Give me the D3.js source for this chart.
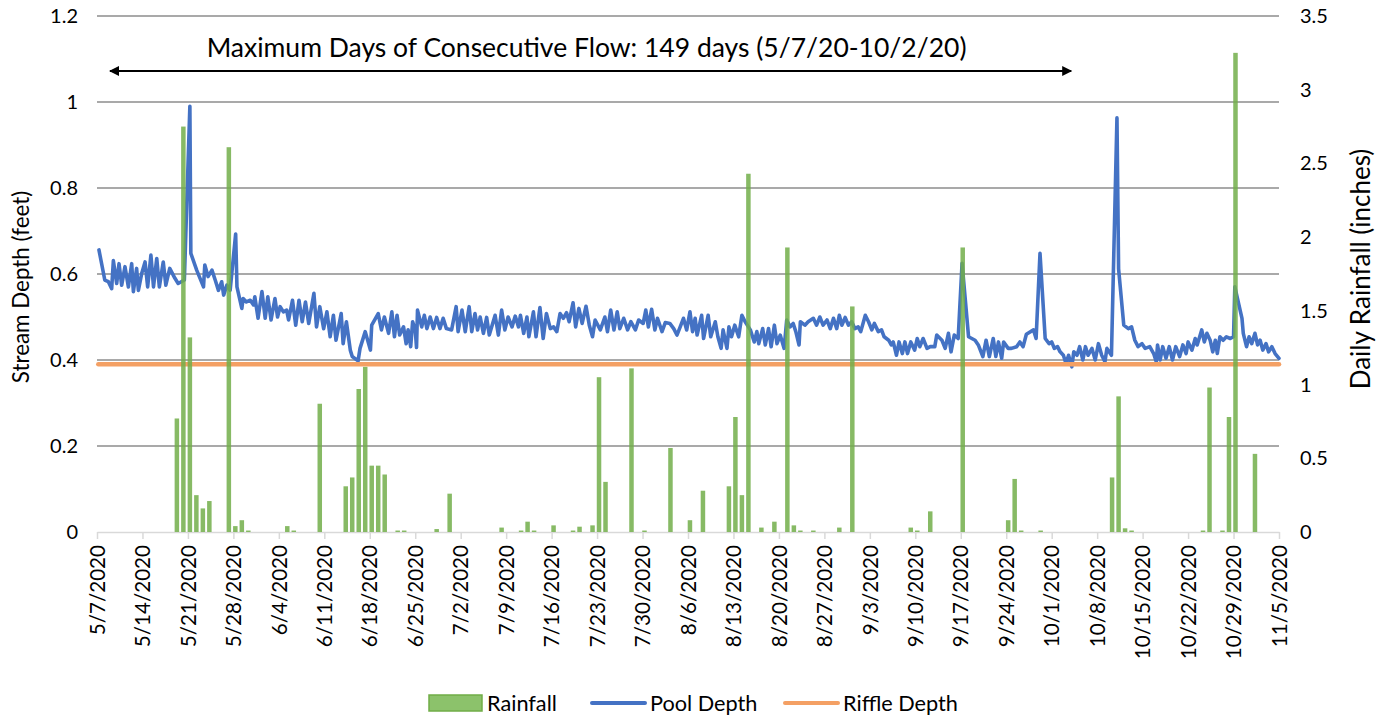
<!DOCTYPE html>
<html>
<head>
<meta charset="utf-8">
<script src="https://cdn.jsdelivr.net/npm/d3@7"></script>
<style>
  body { margin: 0; background: #fff; }
  svg { display: block; font-family: Lato, 'Open Sans', sans-serif; }
</style>
</head>
<body>
<svg width="1389" height="719"></svg>
<script>
// daily rainfall (inches)
var rainDates = ['5/19/2020', '5/20/2020', '5/21/2020', '5/22/2020', '5/23/2020', '5/24/2020',
  '5/27/2020', '5/28/2020', '5/29/2020', '5/30/2020', '6/5/2020', '6/6/2020', '6/10/2020',
  '6/14/2020', '6/15/2020', '6/16/2020', '6/17/2020', '6/18/2020', '6/19/2020', '6/20/2020',
  '6/22/2020', '6/23/2020', '6/28/2020', '6/30/2020', '7/8/2020', '7/11/2020', '7/12/2020',
  '7/13/2020', '7/16/2020', '7/19/2020', '7/20/2020', '7/22/2020', '7/23/2020', '7/24/2020',
  '7/28/2020', '7/30/2020', '8/3/2020', '8/6/2020', '8/8/2020', '8/12/2020', '8/13/2020',
  '8/14/2020', '8/15/2020', '8/17/2020', '8/19/2020', '8/21/2020', '8/22/2020', '8/23/2020',
  '8/25/2020', '8/29/2020', '8/31/2020', '9/9/2020', '9/10/2020', '9/12/2020', '9/17/2020',
  '9/24/2020', '9/25/2020', '9/26/2020', '9/29/2020', '10/10/2020', '10/11/2020', '10/12/2020',
  '10/13/2020', '10/24/2020', '10/25/2020', '10/27/2020', '10/28/2020', '10/29/2020', '11/1/2020']
var rainInches = [0.77, 2.75, 1.32, 0.25, 0.16, 0.21,
  2.61, 0.04, 0.08, 0.01, 0.04, 0.01, 0.87,
  0.31, 0.37, 0.97, 1.12, 0.45, 0.45, 0.39,
  0.01, 0.01, 0.02, 0.26, 0.03, 0.01, 0.07,
  0.01, 0.045, 0.01, 0.036, 0.045, 1.05, 0.34,
  1.11, 0.01, 0.57, 0.08, 0.28, 0.31, 0.78,
  0.25, 2.43, 0.03, 0.07, 1.93, 0.045, 0.01,
  0.01, 0.03, 1.53, 0.03, 0.01, 0.14, 1.93,
  0.08, 0.36, 0.01, 0.01, 0.37, 0.92, 0.025,
  0.01, 0.01, 0.98, 0.01, 0.78, 3.25, 0.53]

// pool depth readings: [days since 5/7/2020, depth in feet]
var poolReadings = [
  [0.3, 0.656], [1.2, 0.586], [1.75, 0.582], [2.26, 0.566], [2.52, 0.631], [3.03, 0.578], [3.39, 0.624],
  [3.8, 0.574], [4.31, 0.617], [4.83, 0.570], [5.34, 0.624], [5.6, 0.559], [6.1, 0.613], [6.37, 0.562],
  [6.88, 0.601], [7.4, 0.628], [7.8, 0.570], [8.3, 0.644], [8.7, 0.570], [9.2, 0.636], [9.6, 0.570],
  [10.2, 0.628], [10.6, 0.574], [11.2, 0.613], [12.0, 0.590], [12.5, 0.578], [13.45, 0.586], [14.3, 0.99],
  [14.45, 0.648], [15.35, 0.609], [16.4, 0.570], [16.6, 0.621], [17.1, 0.594], [17.7, 0.609], [18.2, 0.586],
  [18.7, 0.562], [19.2, 0.582], [19.5, 0.551], [20.0, 0.574], [20.5, 0.562], [21.35, 0.693], [21.55, 0.57],
  [22.3, 0.52], [22.5, 0.543], [23.0, 0.535], [23.6, 0.539], [24.1, 0.528], [24.3, 0.547], [24.8, 0.497],
  [25.4, 0.559], [25.9, 0.497], [26.3, 0.547], [26.8, 0.493], [27.4, 0.543], [27.8, 0.500], [28.2, 0.524],
  [28.7, 0.512], [29.2, 0.516], [29.5, 0.493], [30.1, 0.539], [30.6, 0.481], [31.1, 0.539], [31.6, 0.489],
  [32.1, 0.535], [32.6, 0.485], [33.4, 0.555], [33.8, 0.477], [34.3, 0.524], [34.9, 0.473], [35.4, 0.512],
  [35.9, 0.454], [36.4, 0.504], [36.8, 0.446], [37.6, 0.508], [37.9, 0.438], [38.4, 0.489], [39.0, 0.423],
  [39.3, 0.408], [40.2, 0.398], [40.5, 0.427], [41.3, 0.466], [42.1, 0.423], [42.3, 0.481], [43.3, 0.508],
  [43.8, 0.47], [44.25, 0.50], [44.9, 0.462], [45.4, 0.512], [45.8, 0.454], [46.2, 0.504], [46.6, 0.458],
  [47.2, 0.477], [47.6, 0.438], [47.9, 0.47], [48.3, 0.431], [48.6, 0.489], [49.0, 0.47], [49.2, 0.429],
  [49.35, 0.516], [50.0, 0.477], [50.4, 0.504], [50.8, 0.473], [51.3, 0.50], [51.8, 0.473], [52.3, 0.499],
  [52.8, 0.473], [53.3, 0.497], [53.8, 0.473], [54.6, 0.47], [55.3, 0.524], [55.6, 0.466], [56.2, 0.516],
  [56.7, 0.466], [57.3, 0.524], [57.7, 0.466], [58.2, 0.508], [58.6, 0.47], [59.0, 0.50], [59.5, 0.462],
  [60.0, 0.499], [60.4, 0.458], [61.3, 0.504], [61.8, 0.458], [62.3, 0.516], [62.8, 0.47], [63.3, 0.50],
  [63.9, 0.477], [64.4, 0.502], [64.9, 0.477], [65.2, 0.504], [65.7, 0.462], [66.2, 0.50], [66.5, 0.454],
  [67.2, 0.512], [67.6, 0.454], [68.2, 0.522], [68.7, 0.45], [69.2, 0.508], [69.8, 0.473], [70.3, 0.477],
  [70.8, 0.466], [71.3, 0.508], [71.8, 0.497], [72.3, 0.51], [72.7, 0.489], [73.3, 0.533], [73.7, 0.477],
  [74.2, 0.52], [74.7, 0.485], [75.3, 0.525], [75.8, 0.481], [76.3, 0.454], [76.7, 0.493], [77.5, 0.47],
  [78.2, 0.50], [78.6, 0.466], [79.1, 0.516], [79.6, 0.47], [80.1, 0.512], [80.5, 0.473], [81.1, 0.497],
  [81.7, 0.47], [82.2, 0.489], [82.9, 0.47], [83.4, 0.493], [84.1, 0.485], [84.5, 0.516], [84.9, 0.477],
  [85.4, 0.518], [85.9, 0.47], [86.3, 0.497], [87.0, 0.466], [87.5, 0.487], [88.2, 0.485], [88.8, 0.473],
  [89.3, 0.458], [89.8, 0.477], [90.3, 0.497], [90.8, 0.47], [91.3, 0.512], [91.7, 0.466], [92.1, 0.497],
  [92.4, 0.458], [93.1, 0.504], [93.4, 0.45], [94.1, 0.504], [94.5, 0.454], [95.2, 0.489], [95.6, 0.454],
  [96.1, 0.427], [96.4, 0.47], [97.0, 0.427], [97.3, 0.477], [97.7, 0.454], [98.2, 0.481], [98.8, 0.454],
  [99.3, 0.504], [99.8, 0.489], [100.6, 0.47], [101.2, 0.442], [101.6, 0.466], [101.9, 0.438], [102.5, 0.473],
  [102.9, 0.435], [103.4, 0.473], [103.8, 0.431], [104.3, 0.481], [104.7, 0.438], [105.2, 0.458], [105.8, 0.427],
  [106.2, 0.493], [106.7, 0.477], [107.2, 0.485], [107.6, 0.466], [108.1, 0.435], [108.3, 0.489], [109.0, 0.481],
  [109.5, 0.489], [110.3, 0.497], [110.8, 0.481], [111.3, 0.50], [111.8, 0.481], [112.4, 0.493], [112.9, 0.473],
  [113.4, 0.497], [113.9, 0.473], [114.3, 0.504], [114.7, 0.481], [115.2, 0.499], [115.7, 0.481], [116.2, 0.489],
  [116.7, 0.473], [117.2, 0.477], [117.6, 0.466], [118.3, 0.504], [118.8, 0.489], [119.3, 0.47], [119.7, 0.485],
  [120.3, 0.466], [120.8, 0.47], [121.2, 0.454], [121.9, 0.446], [122.3, 0.435], [122.6, 0.442], [123.1, 0.411],
  [123.5, 0.442], [124.0, 0.415], [124.4, 0.442], [124.8, 0.415], [125.3, 0.442], [125.9, 0.423], [126.3, 0.45],
  [126.7, 0.431], [127.2, 0.45], [127.8, 0.427], [128.3, 0.431], [129.0, 0.431], [129.3, 0.458], [130.1, 0.446],
  [130.6, 0.427], [131.1, 0.462], [131.5, 0.419], [132.0, 0.458], [132.6, 0.45], [133.2, 0.625], [134.2, 0.454],
  [135.2, 0.446], [135.7, 0.435], [136.4, 0.408], [136.9, 0.446], [137.4, 0.408], [138.0, 0.45], [138.4, 0.408],
  [138.8, 0.442], [139.3, 0.404], [139.6, 0.442], [140.3, 0.427], [140.8, 0.427], [141.6, 0.431], [142.1, 0.442],
  [142.6, 0.431], [143.1, 0.46], [144.2, 0.47], [144.6, 0.45], [145.2, 0.648], [146.0, 0.45], [146.6, 0.438],
  [147.0, 0.442], [147.4, 0.427], [147.9, 0.431], [148.3, 0.419], [148.8, 0.411], [149.2, 0.392], [149.6, 0.411],
  [150.1, 0.384], [150.4, 0.419], [150.9, 0.411], [151.3, 0.431], [151.8, 0.40], [152.2, 0.431], [152.6, 0.411],
  [153.2, 0.427], [153.7, 0.40], [154.2, 0.438], [154.7, 0.411], [155.2, 0.396], [155.5, 0.427], [156.2, 0.411],
  [157.05, 0.963], [157.3, 0.612], [158.1, 0.481], [158.8, 0.473], [159.3, 0.477], [159.8, 0.446], [160.3, 0.431],
  [160.9, 0.438], [161.4, 0.427], [162.1, 0.431], [162.7, 0.415], [163.1, 0.396], [163.3, 0.435], [163.7, 0.40],
  [164.1, 0.431], [164.6, 0.404], [165.1, 0.431], [165.6, 0.40], [166.1, 0.431], [166.7, 0.408], [167.2, 0.435],
  [167.7, 0.415], [168.0, 0.442], [168.6, 0.423], [169.1, 0.45], [169.4, 0.435], [170.1, 0.47], [170.5, 0.442],
  [170.9, 0.462], [171.4, 0.446], [171.8, 0.419], [172.2, 0.446], [172.5, 0.415], [172.9, 0.454], [173.4, 0.446],
  [173.9, 0.454], [174.5, 0.45], [175.0, 0.454], [175.2, 0.57], [176.3, 0.497], [176.5, 0.462], [177.0, 0.431],
  [177.4, 0.454], [177.8, 0.438], [178.3, 0.462], [178.7, 0.435], [179.1, 0.446], [179.5, 0.423], [180.0, 0.438],
  [180.4, 0.419], [180.9, 0.431], [181.4, 0.415], [182.0, 0.404]
]

var riffleDepth = 0.39
var startDate = '5/7/2020'
var endDate = '11/5/2020'
var flowStart = '5/9/2020'
var flowEnd = '10/4/2020'
var annotation = 'Maximum Days of Consecutive Flow: 149 days (5/7/20-10/2/20)'
var depthTicks = [0, 0.2, 0.4, 0.6, 0.8, 1, 1.2]
var rainTicks = [0, 0.5, 1, 1.5, 2, 2.5, 3, 3.5]

var parse = d3.utcParse('%m/%d/%Y')
var fmtDate = d3.utcFormat('%-m/%-d/%Y')
var fmtNum = d3.format('.1~f')
var t0 = parse(startDate)
var t1 = parse(endDate)
function dayToDate (d) { return new Date(t0.getTime() + d * 864e5) }

var plotLeft = 97
var plotRight = 1279
var plotTop = 16
var plotBottom = 532

var x = d3.scaleUtc().domain([t0, t1]).range([plotLeft, plotRight])
var yDepth = d3.scaleLinear().domain([0, 1.2]).range([plotBottom, plotTop])
var yRain = d3.scaleLinear().domain([0, 3.5]).range([plotBottom, plotTop])

var svg = d3.select('svg')

// gridlines
svg.append('g').selectAll('line')
  .data(depthTicks.filter(function (d) { return d > 0 }))
  .join('line')
  .attr('x1', plotLeft).attr('x2', plotRight)
  .attr('y1', yDepth).attr('y2', yDepth)
  .attr('stroke', '#8c8c8c').attr('stroke-width', 1.5)

// left axis labels
svg.append('g').selectAll('text')
  .data(depthTicks)
  .join('text')
  .attr('x', 78).attr('y', yDepth).attr('dy', '0.35em')
  .attr('text-anchor', 'end')
  .attr('font-size', 20).attr('fill', '#000')
  .text(fmtNum)

// right axis labels
svg.append('g').selectAll('text')
  .data(rainTicks)
  .join('text')
  .attr('x', 1300).attr('y', yRain).attr('dy', '0.35em')
  .attr('font-size', 20).attr('fill', '#000')
  .text(fmtNum)

// x axis
var dateTicks = d3.utcDay.range(t0, d3.utcDay.offset(t1, 1), 7)
var xAxis = svg.append('g')
  .attr('transform', 'translate(0,' + plotBottom + ')')
  .call(d3.axisBottom(x).tickValues(dateTicks).tickFormat(fmtDate).tickSize(7).tickSizeOuter(0))
xAxis.select('.domain').attr('stroke', '#d9d9d9').attr('stroke-width', 1.5)
xAxis.selectAll('.tick line').attr('stroke', '#d9d9d9').attr('stroke-width', 1.5)
xAxis.selectAll('.tick text')
  .attr('font-family', 'Lato, sans-serif')
  .attr('font-size', 20.6).attr('fill', '#000')
  .attr('transform', 'rotate(-90)')
  .attr('text-anchor', 'end')
  .attr('x', -13).attr('y', 0).attr('dy', '0.35em')

// pool depth line
var line = d3.line()
  .x(function (d) { return x(dayToDate(d[0])) })
  .y(function (d) { return yDepth(d[1]) })
svg.append('path')
  .datum(poolReadings)
  .attr('d', line)
  .attr('fill', 'none')
  .attr('stroke', '#4472c4')
  .attr('stroke-width', 3.6)
  .attr('stroke-linejoin', 'round')
  .attr('stroke-linecap', 'round')

// riffle depth line
svg.append('line')
  .attr('x1', x(dayToDate(0.2))).attr('x2', x(t1))
  .attr('y1', yDepth(riffleDepth)).attr('y2', yDepth(riffleDepth))
  .attr('stroke', '#f4a064').attr('stroke-width', 4.5)
  .attr('stroke-linecap', 'round')

// rainfall bars
var rain = rainDates.map(function (d, i) { return { date: parse(d), value: rainInches[i] } })
svg.append('g').selectAll('rect')
  .data(rain)
  .join('rect')
  .attr('x', function (d) { return x(new Date(d.date.getTime() + 0.3 * 864e5)) - 2.25 })
  .attr('width', 4.5)
  .attr('y', function (d) { return yRain(d.value) })
  .attr('height', function (d) { return plotBottom - yRain(d.value) })
  .attr('fill', '#72ae4a')
  .attr('fill-opacity', 0.85)

// axis titles
svg.append('text')
  .attr('transform', 'translate(29,287) rotate(-90)')
  .attr('text-anchor', 'middle').attr('font-size', 22.4)
  .text('Stream Depth (feet)')
svg.append('text')
  .attr('transform', 'translate(1370,269) rotate(-90)')
  .attr('text-anchor', 'middle').attr('font-size', 26)
  .text('Daily Rainfall (inches)')

// annotation arrow
var defs = svg.append('defs')
defs.append('marker')
  .attr('id', 'head')
  .attr('viewBox', '0 0 10 10')
  .attr('refX', 9).attr('refY', 5)
  .attr('markerWidth', 12).attr('markerHeight', 10)
  .attr('markerUnits', 'userSpaceOnUse')
  .attr('orient', 'auto-start-reverse')
  .append('path').attr('d', 'M0,0L10,5L0,10Z').attr('fill', '#000')
var ax0 = x(parse(flowStart))
var ax1 = x(parse(flowEnd))
svg.append('line')
  .attr('x1', ax0).attr('x2', ax1)
  .attr('y1', 71).attr('y2', 71)
  .attr('stroke', '#000').attr('stroke-width', 2)
  .attr('marker-start', 'url(#head)')
  .attr('marker-end', 'url(#head)')
svg.append('text')
  .attr('x', (ax0 + ax1) / 2 - 4).attr('y', 57)
  .attr('text-anchor', 'middle').attr('font-size', 26.5)
  .text(annotation)

// legend
var legend = svg.append('g').attr('font-size', 21.7)
legend.append('rect')
  .attr('x', 429).attr('y', 695).attr('width', 53).attr('height', 16)
  .attr('fill', '#8cc26b').attr('stroke', '#70ad47').attr('stroke-width', 1.5)
legend.append('text').attr('x', 487).attr('y', 711).text('Rainfall')
legend.append('line')
  .attr('x1', 592).attr('x2', 645).attr('y1', 703).attr('y2', 703)
  .attr('stroke', '#4472c4').attr('stroke-width', 4).attr('stroke-linecap', 'round')
legend.append('text').attr('x', 650).attr('y', 711).text('Pool Depth')
legend.append('line')
  .attr('x1', 785).attr('x2', 838).attr('y1', 703).attr('y2', 703)
  .attr('stroke', '#f4a064').attr('stroke-width', 4).attr('stroke-linecap', 'round')
legend.append('text').attr('x', 843).attr('y', 711).text('Riffle Depth')
</script>
</body>
</html>
